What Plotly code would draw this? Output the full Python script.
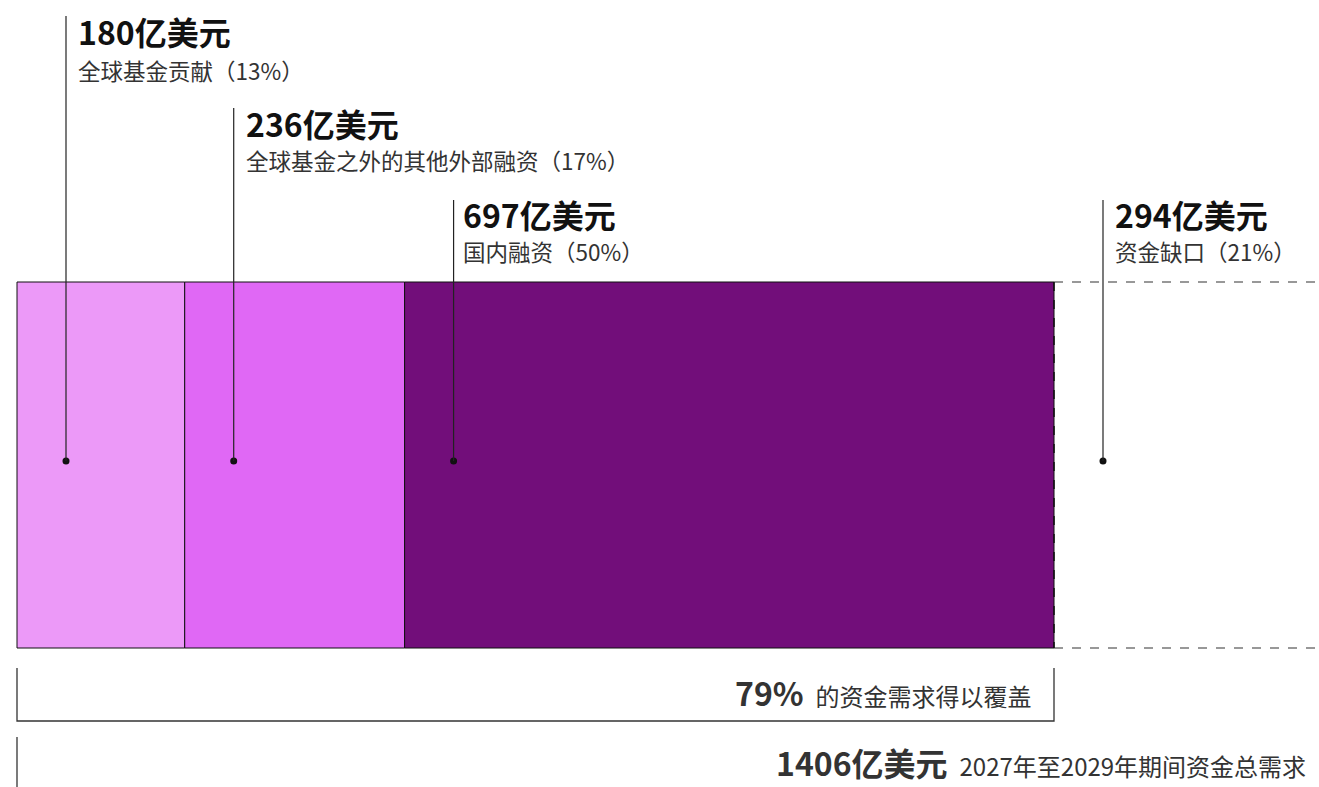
import plotly.graph_objects as go

# ---- data ----
categories = ["全球基金贡献", "全球基金之外的其他外部融资", "国内融资", "资金缺口"]
values = [180, 236, 697, 294]          # 亿美元
pcts = [13, 17, 50, 21]
total_need = 1406                      # 亿美元 (as stated in source)
covered_pct = 79
colors = ["#EC99F8", "#E068F5", "#720E7A"]
total_label = "2027年至2029年期间资金总需求"
covered_label = "的资金需求得以覆盖"
unit = "亿美元"

covered = sum(values[:3])

W, H = 1319, 787
px_per_unit = 1037 / covered
x0_px = 17
xr = [-x0_px / px_per_unit, (W - x0_px) / px_per_unit]

FONT = "Noto Sans CJK SC"
fig = go.Figure()

bases = [sum(values[:i]) for i in range(len(values))]
bar_y, bar_h = 465, 366
for i in range(3):
    fig.add_trace(go.Bar(
        x=[values[i]], base=[bases[i]], y=[bar_y], width=[bar_h], orientation="h",
        marker=dict(color=colors[i], line=dict(color="#111", width=1)),
        hoverinfo="skip", showlegend=False))

top, bot = bar_y - bar_h / 2, bar_y + bar_h / 2
gap_end = covered + values[3]
# dashed outline for the gap
for yy in (top, bot):
    fig.add_shape(type="line", x0=covered, x1=gap_end, y0=yy, y1=yy, xref="x", yref="y",
                  line=dict(color="#333", width=1.2, dash="dash"))
fig.add_shape(type="line", x0=covered, x1=covered, y0=top, y1=bot, xref="x", yref="y",
              line=dict(color="#111", width=1.5, dash="dash"))

# leader lines and labels
off = 49 / px_per_unit
text_offs = [10, 10, 7, 10]
line_tops = [16, 108, 200, 200]
title_y = [31, 123, 214, 214]
sub_y = [70, 160, 251, 251]
dot_y = 461
lx = [b + off for b in bases]
for i in range(4):
    tx = lx[i] + text_offs[i] / px_per_unit
    fig.add_shape(type="line", x0=lx[i], x1=lx[i], y0=line_tops[i], y1=dot_y, xref="x", yref="y",
                  line=dict(color="#222", width=1.2))
    fig.add_annotation(x=tx, y=title_y[i], xref="x", yref="y", xanchor="left",
                       yanchor="middle", showarrow=False,
                       text=f"<b>{values[i]}{unit}</b>",
                       font=dict(family=FONT, size=32, color="#111"))
    fig.add_annotation(x=tx, y=sub_y[i], xref="x", yref="y", xanchor="left",
                       yanchor="middle", showarrow=False,
                       text=f"{categories[i]}（{pcts[i]}%）",
                       font=dict(family=FONT, size=22.5, color="#333"))
fig.add_trace(go.Scatter(x=lx, y=[dot_y] * 4, mode="markers",
                         marker=dict(color="#111", size=7), hoverinfo="skip", showlegend=False))

# coverage bracket
br_top, br_bot = 668, 721
fig.add_shape(type="path", xref="x", yref="y",
              path=f"M {0} {br_top} L {0} {br_bot} L {covered} {br_bot} L {covered} {br_top}",
              line=dict(color="#333", width=1.3))
fig.add_annotation(x=covered - 20 / px_per_unit, y=692, xref="x", yref="y", xanchor="right",
                   yanchor="middle", showarrow=False,
                   text=f"<span style='font-size:32px'><b>{covered_pct}%</b></span>\u2002{covered_label}",
                   font=dict(family=FONT, size=24, color="#333"))
# total
fig.add_shape(type="line", x0=0, x1=0, y0=737, y1=H, xref="x", yref="y",
              line=dict(color="#333", width=1.3))
fig.add_annotation(x=xr[1] - 11 / px_per_unit, y=762, xref="x", yref="y", xanchor="right",
                   yanchor="middle", showarrow=False,
                   text=f"<span style='font-size:32px'><b>{total_need}{unit}</b></span>\u2002{total_label}",
                   font=dict(family=FONT, size=24, color="#333"))

fig.update_layout(
    width=W, height=H, margin=dict(l=0, r=0, t=0, b=0),
    paper_bgcolor="white", plot_bgcolor="white", barmode="overlay",
    xaxis=dict(range=xr, visible=False, fixedrange=True),
    yaxis=dict(range=[H, 0], visible=False, fixedrange=True),
)
fig.write_html("out.html")
